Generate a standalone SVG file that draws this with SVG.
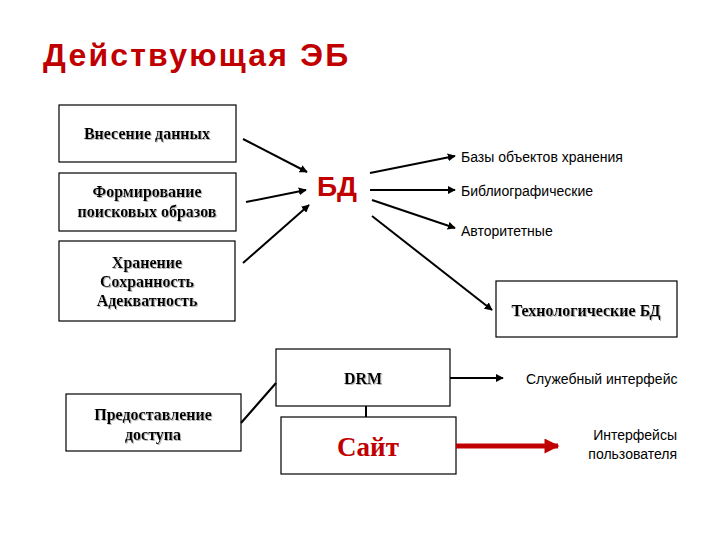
<svg xmlns="http://www.w3.org/2000/svg" width="720" height="540" viewBox="0 0 720 540">
<style>
.box{fill:#fff;stroke:#000;stroke-width:1.2}
.bt{font-family:"Liberation Serif",serif;font-weight:bold;font-size:16px;text-anchor:middle;fill:#000;filter:url(#sh)}
.lbl{font-family:"Liberation Sans",Arial,sans-serif;font-size:14px;fill:#000}
.ln{stroke:#000;stroke-width:2;fill:none}
</style>
<defs>
<filter id="sh" x="-10%" y="-30%" width="120%" height="160%">
<feDropShadow dx="1" dy="1" stdDeviation="0.6" flood-color="#999" flood-opacity="0.7"/>
</filter>
<marker id="ah" viewBox="0 0 10 10" refX="9" refY="5" markerWidth="4" markerHeight="4" orient="auto" markerUnits="strokeWidth">
<path d="M0,0L10,5L0,10z" fill="#000"/>
</marker>
<marker id="rah" viewBox="0 0 10 10" refX="9" refY="5" markerWidth="3.4" markerHeight="3" orient="auto" markerUnits="strokeWidth">
<path d="M0,0L10,5L0,10z" fill="#c00000"/>
</marker>
</defs>
<rect width="720" height="540" fill="#fff"/>
<text x="43" y="66" font-family="Liberation Sans,Arial,sans-serif" font-weight="bold" font-size="32" letter-spacing="2.2" fill="#c00000">Действующая ЭБ</text>

<g id="vnesenie"><rect class="box" x="59" y="105" width="177" height="57"/><text class="bt" x="147" y="139">Внесение данных</text></g>
<g id="formirovanie"><rect class="box" x="59" y="173" width="177" height="58"/><text class="bt" x="147" y="197">Формирование</text><text class="bt" x="147" y="217">поисковых образов</text></g>
<g id="hranenie"><rect class="box" x="59" y="241" width="176" height="80"/><text class="bt" x="147" y="268">Хранение</text><text class="bt" x="147" y="287">Сохранность</text><text class="bt" x="147" y="306">Адекватность</text></g>
<g id="bd"><text x="337" y="196" font-family="Liberation Sans,Arial,sans-serif" font-weight="bold" font-size="28" fill="#c00000" text-anchor="middle">БД</text></g>
<g id="bazy"><text class="lbl" x="461" y="162">Базы объектов хранения</text></g>
<g id="biblio"><text class="lbl" x="461" y="196">Библиографические</text></g>
<g id="avtor"><text class="lbl" x="461" y="236">Авторитетные</text></g>
<g id="tehbd"><rect class="box" x="496" y="281" width="181" height="56"/><text class="bt" x="586" y="316">Технологические БД</text></g>
<g id="drm"><rect class="box" x="276" y="349" width="174" height="57"/><text class="bt" x="363" y="384">DRM</text></g>
<g id="sait"><rect class="box" x="281" y="417" width="175" height="57"/><text x="368" y="456" font-family="Liberation Serif,serif" font-weight="bold" font-size="27" fill="#c00000" text-anchor="middle">Сайт</text></g>
<g id="predost"><rect class="box" x="66" y="394" width="175" height="57"/><text class="bt" x="153" y="420">Предоставление</text><text class="bt" x="153" y="440">доступа</text></g>
<g id="sluzh"><text class="lbl" x="526" y="384">Служебный интерфейс</text></g>
<g id="interf"><text class="lbl" x="677" y="440" text-anchor="end">Интерфейсы</text><text class="lbl" x="677" y="459" text-anchor="end">пользователя</text></g>

<g id="connectors">
<line class="ln" x1="243" y1="139" x2="307" y2="172" marker-end="url(#ah)"/>
<line class="ln" x1="246" y1="202" x2="306" y2="190" marker-end="url(#ah)"/>
<line class="ln" x1="243" y1="263" x2="309" y2="205" marker-end="url(#ah)"/>
<line class="ln" x1="370" y1="173" x2="455" y2="156" marker-end="url(#ah)"/>
<line class="ln" x1="370" y1="190" x2="455" y2="190" marker-end="url(#ah)"/>
<line class="ln" x1="372" y1="200" x2="455" y2="228" marker-end="url(#ah)"/>
<line class="ln" x1="372" y1="216" x2="492" y2="310" marker-end="url(#ah)"/>
<line class="ln" x1="241" y1="423" x2="276" y2="383"/>
<line class="ln" x1="366" y1="406" x2="366" y2="417"/>
<line class="ln" x1="450" y1="378" x2="503" y2="378" marker-end="url(#ah)"/>
<line x1="456" y1="446" x2="558" y2="446" stroke="#c00000" stroke-width="5" marker-end="url(#rah)"/>
</g>
</svg>
